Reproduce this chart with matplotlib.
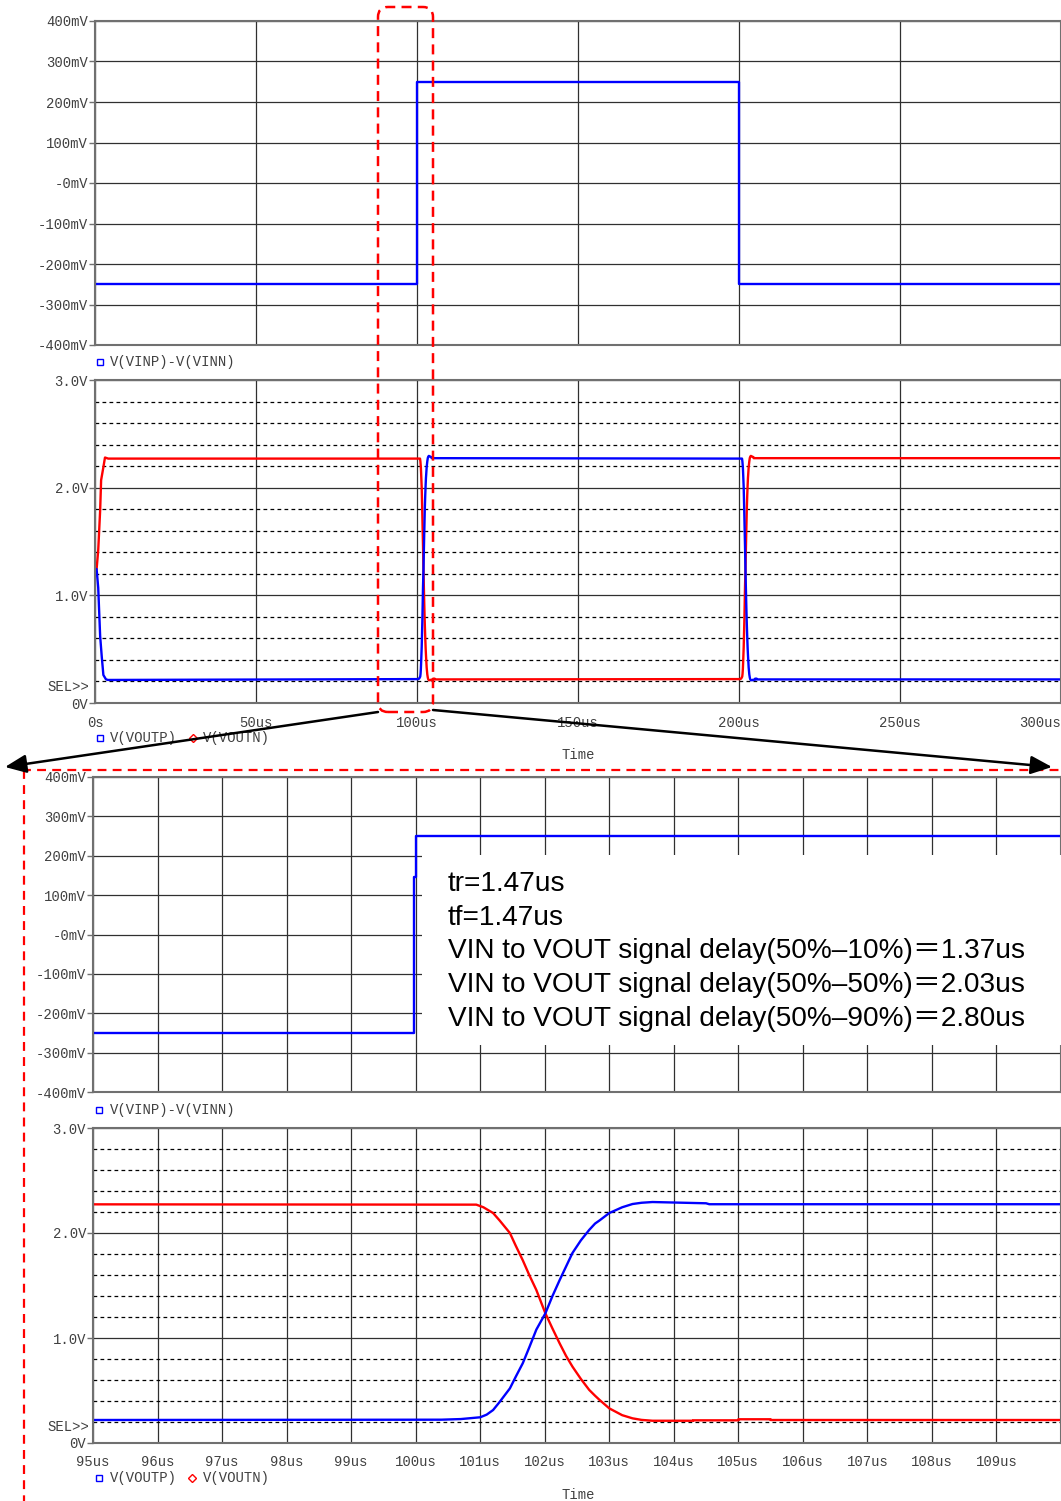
import numpy as np
import matplotlib
matplotlib.use("Agg")
import matplotlib.pyplot as plt
from matplotlib.lines import Line2D
from matplotlib.patches import Rectangle, FancyBboxPatch, FancyArrowPatch

plt.rcParams['font.family'] = ['Liberation Mono', 'DejaVu Sans Mono']

# ---- data ----
# input difference, full run (us, mV)
vin_t = [0, 100, 100, 200, 200, 300]
vin_v = [-250, -250, 250, 250, -250, -250]
# input difference, zoomed 95..110us (us, mV)
vinz_t = [95, 99.98, 99.98, 100.01, 100.01, 110]
vinz_v = [-250, -250, 145, 145, 250, 250]

# outputs around the 100us edge (us, V)
voutp_t = [95, 100.4, 100.7, 101.0, 101.1, 101.2, 101.3, 101.46, 101.55, 101.66, 101.76, 101.87,
           102.01, 102.12, 102.23, 102.33, 102.43, 102.56, 102.69, 102.78, 102.85, 103.0, 103.2,
           103.36, 103.5, 103.67, 104.09, 104.5, 104.55, 110]
voutp_v = [0.219, 0.222, 0.228, 0.245, 0.27, 0.314, 0.39, 0.52, 0.63, 0.76, 0.91, 1.08,
           1.235, 1.40, 1.55, 1.68, 1.81, 1.93, 2.03, 2.09, 2.12, 2.19, 2.245,
           2.276, 2.288, 2.295, 2.289, 2.283, 2.274, 2.274]
voutn_t = [95, 100.94, 101.05, 101.2, 101.3, 101.46, 101.55, 101.66, 101.76, 101.87, 102.01,
           102.12, 102.23, 102.33, 102.43, 102.56, 102.69, 102.78, 102.85, 103.0, 103.2, 103.36,
           103.5, 103.67, 104.3, 104.3, 105.0, 105.0, 105.5, 105.5, 110]
voutn_v = [2.273, 2.27, 2.245, 2.19, 2.12, 2.0, 1.88, 1.74, 1.6, 1.457, 1.235,
           1.09, 0.95, 0.83, 0.727, 0.61, 0.505, 0.45, 0.41, 0.33, 0.265, 0.235,
           0.22, 0.212, 0.212, 0.216, 0.216, 0.226, 0.226, 0.219, 0.219]

# start-up transient (us, V)
startp_t = [0, 0.5, 1.0, 1.6, 2.1, 2.6, 3.4, 4.0]
startp_v = [1.244, 1.244, 1.07, 0.62, 0.43, 0.26, 0.22, 0.214]
startn_t = [0, 0.5, 1.0, 1.6, 1.9, 2.6, 3.1, 4.1]
startn_v = [1.244, 1.244, 1.42, 1.79, 2.07, 2.19, 2.28, 2.27]

top_yticks = [-400, -300, -200, -100, 0, 100, 200, 300, 400]
top_ylabels = ["-400mV", "-300mV", "-200mV", "-100mV", "-0mV", "100mV", "200mV", "300mV", "400mV"]
out_yticks = [0, 1, 2, 3]
out_ylabels = ["0V", "1.0V", "2.0V", "3.0V"]
full_xticks = [0, 50, 100, 150, 200, 250, 300]
full_xlabels = ["0s", "50us", "100us", "150us", "200us", "250us", "300us"]
zoom_xticks = list(range(95, 111))
zoom_xlabels = ["%dus" % v for v in range(95, 110)] + [""]

notes = ["tr=1.47us",
         "tf=1.47us",
         "VIN to VOUT signal delay(50%\u201310%)\uff1d1.37us",
         "VIN to VOUT signal delay(50%\u201350%)\uff1d2.03us",
         "VIN to VOUT signal delay(50%\u201390%)\uff1d2.80us"]

# full-run outputs: start-up, then the two edges (100us edge as read, 200us edge mirrored)
fp_t = startp_t + voutp_t[1:-1] + [t + 100 for t in voutn_t[1:-1]] + [300]
fp_v = startp_v + voutp_v[1:-1] + voutn_v[1:-1] + [0.219]
fn_t = startn_t + voutn_t[1:-1] + [t + 100 for t in voutp_t[1:-1]] + [300]
fn_v = startn_v + voutn_v[1:-1] + voutp_v[1:-1] + [2.274]

W, H = 1061, 1501
fig = plt.figure(figsize=(W / 100, H / 100), dpi=100)
inch = fig.dpi_scale_trans

def ax_at(l, t, r, b):
    return fig.add_axes([l / W, 1 - b / H, (r - l) / W, (b - t) / H])

def style(ax):
    for s in ax.spines.values():
        s.set_color('#707070')
        s.set_linewidth(1.5)
    ax.tick_params(axis='y', direction='out', length=4.5, width=1, color='#707070',
                   labelsize=10, labelcolor='#404040', pad=0.5)
    ax.tick_params(axis='x', length=0, labelsize=10, labelcolor='#404040', pad=9)
    ax.grid(True, which='major', color='#303030', lw=0.9)
    ax.set_axisbelow(True)

def minor_dashes(ax):
    ax.set_yticks([0.2, 0.4, 0.6, 0.8, 1.2, 1.4, 1.6, 1.8, 2.2, 2.4, 2.6, 2.8], minor=True)
    ax.tick_params(axis='y', which='minor', length=0)
    ax.grid(True, which='minor', axis='y', color='black', lw=0.9, linestyle=(0, (3, 2.6)))

def ftext(x, y, s, **kw):
    fig.text(x / W, 1 - y / H, s, va='center', fontsize=10, color='#404040', **kw)

def fmark(x, y, m, c, ms):
    fig.add_artist(Line2D([x / W], [1 - y / H], marker=m, ms=ms, mfc='none', mec=c, mew=1,
                          transform=fig.transFigure))

LW = 1.7

# panel 1: input, full run
ax1 = ax_at(95, 21, 1061, 345)
style(ax1)
ax1.plot(vin_t, vin_v, color='#0000ff', lw=LW)
ax1.set_xlim(0, 300)
ax1.set_ylim(-400, 400)
ax1.set_xticks(full_xticks)
ax1.set_xticklabels([])
ax1.set_yticks(top_yticks)
ax1.set_yticklabels(top_ylabels)
fmark(100, 362, 's', '#0000ff', 5)
ftext(110, 362, "V(VINP)-V(VINN)")

# panel 2: outputs, full run
ax2 = ax_at(95, 380, 1061, 703)
style(ax2)
minor_dashes(ax2)
ax2.plot(fn_t, fn_v, color='#ff0000', lw=LW)
ax2.plot(fp_t, fp_v, color='#0000ff', lw=LW)
ax2.set_xlim(0, 300)
ax2.set_ylim(0, 3)
ax2.set_xticks(full_xticks)
ax2.set_xticklabels(full_xlabels)
ax2.get_xticklabels()[-1].set_ha('right')
ax2.set_yticks(out_yticks)
ax2.set_yticklabels(out_ylabels)
ftext(89, 687, "SEL>>", ha='right')
fmark(100, 738, 's', '#0000ff', 5)
ftext(110, 738, "V(VOUTP)")
fmark(193, 738, 'D', '#ff0000', 4)
ftext(203, 738, "V(VOUTN)")
ftext(578, 755, "Time", ha='center')

# panel 3: input, zoom
ax3 = ax_at(93, 777, 1061, 1092)
style(ax3)
ax3.plot(vinz_t, vinz_v, color='#0000ff', lw=LW)
ax3.set_xlim(95, 110)
ax3.set_ylim(-400, 400)
ax3.set_xticks(zoom_xticks)
ax3.set_xticklabels([])
ax3.set_yticks(top_yticks)
ax3.set_yticklabels(top_ylabels)
fmark(99, 1110, 's', '#0000ff', 5)
ftext(110, 1110, "V(VINP)-V(VINN)")

# panel 4: outputs, zoom
ax4 = ax_at(93, 1128, 1061, 1443)
style(ax4)
minor_dashes(ax4)
ax4.plot(voutn_t, voutn_v, color='#ff0000', lw=LW)
ax4.plot(voutp_t, voutp_v, color='#0000ff', lw=LW)
ax4.set_xlim(95, 110)
ax4.set_ylim(0, 3)
ax4.set_xticks(zoom_xticks)
ax4.set_xticklabels(zoom_xlabels)
ax4.set_yticks(out_yticks)
ax4.set_yticklabels(out_ylabels)
ftext(89, 1427, "SEL>>", ha='right')
fmark(99, 1478, 's', '#0000ff', 5)
ftext(110, 1478, "V(VOUTP)")
fmark(192, 1478, 'D', '#ff0000', 4)
ftext(203, 1478, "V(VOUTN)")
ftext(578, 1495, "Time", ha='center')

# white note box over the zoomed input
fig.add_artist(Rectangle((422 / 100, (H - 1045) / 100), (W - 422) / 100, (1045 - 855) / 100,
                         fc='white', ec='none', transform=inch, zorder=5))
for i, s in enumerate(notes):
    fig.text(448 / W, 1 - (884 + i * 33.75) / H, s, va='center', fontsize=20.2, color='black',
             family=['Liberation Sans', 'Noto Sans CJK SC'], zorder=6)

# red dashed highlight around the 100us edge
fig.add_artist(FancyBboxPatch((378 / 100, (H - 712) / 100), 55 / 100, (712 - 7) / 100,
                              boxstyle='round,pad=0,rounding_size=0.1', fc='none', ec='#ff0000',
                              lw=1.8, linestyle=(0, (4, 2.5)), transform=inch, zorder=8))
# red dashed frame of the zoom section
fig.add_artist(Line2D([22 / 100, W / 100], [(H - 770) / 100] * 2, color='#ff0000', lw=1.6,
                      linestyle=(0, (4, 2.8)), transform=inch, zorder=8))
fig.add_artist(Line2D([24 / 100] * 2, [(H - 770) / 100, 0], color='#ff0000', lw=1.6,
                      linestyle=(0, (4, 2.8)), transform=inch, zorder=8))

# black arrows
for a, b in [((378, 712), (5, 767)), ((433, 710), (1052, 767))]:
    fig.add_artist(FancyArrowPatch((a[0] / 100, (H - a[1]) / 100), (b[0] / 100, (H - b[1]) / 100),
                                   arrowstyle='-|>,head_length=0.65,head_width=0.28',
                                   mutation_scale=20, lw=1.8, color='black',
                                   shrinkA=0, shrinkB=0, transform=inch, zorder=9))

fig.savefig("out.png", dpi=100)
